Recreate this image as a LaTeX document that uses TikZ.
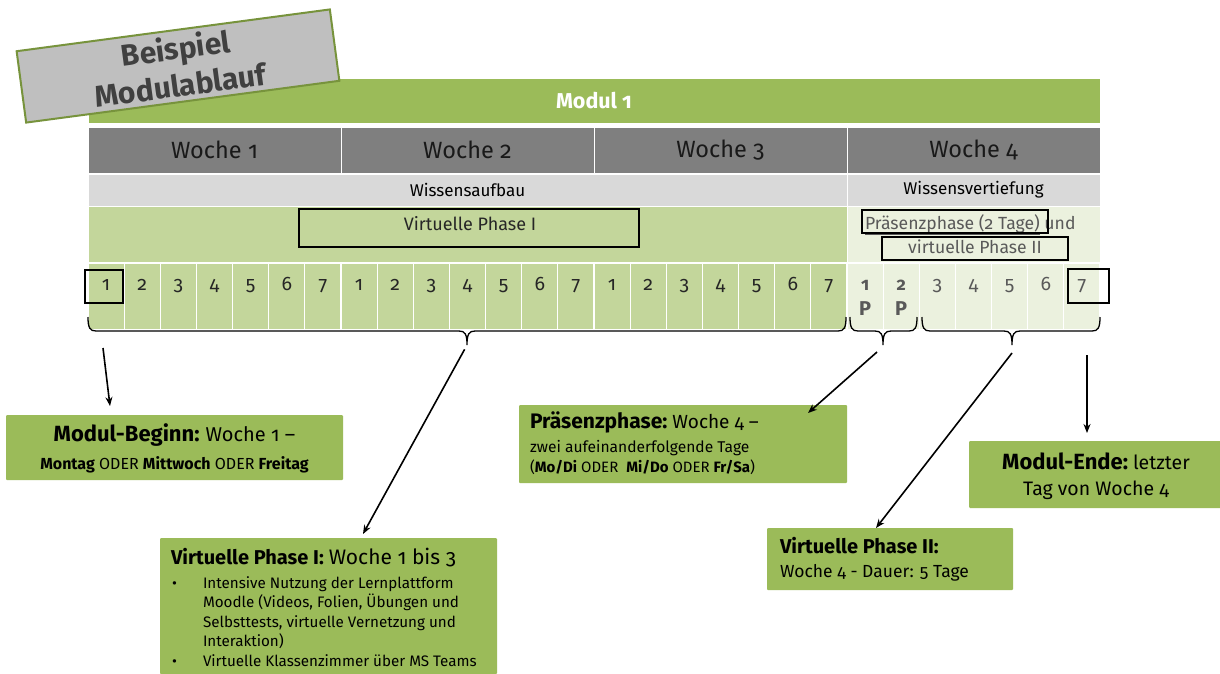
\documentclass[tikz,border=0pt]{standalone}
\usepackage{fontspec}
\setmainfont{Fira Sans}[Numbers=OldStyle]
\usetikzlibrary{arrows.meta}
\definecolor{mgreen}{HTML}{9BBB59}
\definecolor{lgreen}{HTML}{C3D69B}
\definecolor{vlgreen}{HTML}{EBF1DE}
\definecolor{dgray}{HTML}{7F7F7F}
\definecolor{lgray}{HTML}{D9D9D9}
\definecolor{bgray}{HTML}{BFBFBF}
\definecolor{bgreen}{HTML}{77933C}
\definecolor{txtgray}{HTML}{595959}
\definecolor{titlegray}{HTML}{404040}
\newcommand\fs[1]{\fontsize{#1}{#1}\selectfont}
\newcommand\mybracket[4]{%
  \draw[brc] (#1,317) .. controls (#1,328) and (#1+2,331) .. (#1+8,331)
    -- (#3-8,331) .. controls (#3-2,331) and (#3,334) .. (#3,345) coordinate (#4)
    .. controls (#3,334) and (#3+2,331) .. (#3+8,331)
    -- (#2-8,331) .. controls (#2-2,331) and (#2,328) .. (#2,317);
}
\begin{document}
\begin{tikzpicture}[x=1pt,y=-1pt,
  every node/.style={inner sep=0pt,outer sep=0pt},
  band/.style={anchor=north west,draw=white,line width=1pt},
  daycell/.style={anchor=north west,draw=white,line width=1.2pt,minimum width=36.143pt,minimum height=67pt},
  daynum/.style={anchor=base,font=\fs{19.5},text=black!85},
  daynumb/.style={anchor=base,font=\fs{19.5},text=txtgray},
  frame/.style={anchor=north west,draw=black,line width=1.8pt},
  infobox/.style={anchor=north west,fill=mgreen,rounded corners=1pt},
  brc/.style={draw=black,line width=1.3pt},
  arr/.style={draw=black,line width=1.6pt,-{Stealth[length=9pt,width=7pt]}}
]
\useasboundingbox (0,0) rectangle (1220,673);

% header rows
\node[band,fill=mgreen,minimum width=1012,minimum height=45,font=\fs{21.5}\bfseries,text=white] (modul) at (88,78) {Modul 1};
\foreach \i in {1,...,4}{
  \node[band,fill=dgray,minimum width=253,minimum height=46,font=\fs{23.5},text=black!90] (w\i) at ({88+253*(\i-1)},127) {Woche \i};
}
\node[band,fill=lgray,minimum width=759,minimum height=32,font=\fs{17}] (wa) at (88,174) {Wissensaufbau};
\node[band,fill=lgray,minimum width=253,minimum height=32,font=\fs{17}] (wv) at (847,174) {Wissensvertiefung};
\node[band,fill=lgreen,minimum width=759,minimum height=57] (vp) at (88,206) {};
\node[band,fill=vlgreen,minimum width=253,minimum height=57] (pv) at (847,206) {};

% day cells
\foreach \i in {0,...,27}{
  \ifnum\i<21 \def\cf{lgreen}\else\def\cf{vlgreen}\fi
  \node[daycell,fill=\cf] (d\i) at ({88+36.143*\i},263) {};
}
\foreach \i in {0,...,20}{
  \pgfmathtruncatemacro\dn{mod(\i,7)+1}
  \node[daynum] (n\i) at ({88+36.143*(\i+0.5)},290) {\dn};
}
\node[daynumb,font=\fs{18}\bfseries] (n21) at ({88+36.143*21.5},290) {1};
\node[daynumb,font=\fs{20}\bfseries] (p21) at ({88+36.143*21.5},315) {P};
\node[daynumb,font=\fs{18}\bfseries] (n22) at ({88+36.143*22.5},290) {2};
\node[daynumb,font=\fs{20}\bfseries] (p22) at ({88+36.143*22.5},315) {P};
\foreach \i in {23,...,27}{
  \pgfmathtruncatemacro\dn{\i-20}
  \node[daynumb] (n\i) at ({88+36.143*(\i+0.5)},290) {\dn};
}

% phase labels and frames
\node[frame,minimum width=340,minimum height=38] (vpbox) at (299,209) {};
\node[anchor=base,font=\fs{18},text=black!85] (vpt) at (470,230) {Virtuelle Phase I};
\node[anchor=base west,font=\fs{17.6},text=txtgray] (pt) at (865,229) {\underline{Präsenzphase (2 Tage)} und};
\node[frame,minimum width=186,minimum height=23] (pbox) at (862,210) {};
\node[anchor=base,font=\fs{17.6},text=txtgray] (vt2) at (975,253) {virtuelle Phase II};
\node[frame,minimum width=186,minimum height=23] (vbox2) at (882,237) {};
\node[frame,minimum width=38,minimum height=33] (f1) at (85,270) {};
\node[frame,minimum width=41,minimum height=34] (f7) at (1068,269) {};

% brackets
\mybracket{88}{846}{467}{br1}
\mybracket{850}{917}{883}{br2}
\mybracket{922}{1100}{1012}{br3}

% info boxes
\node[infobox,minimum width=337,minimum height=65] (beg) at (6,415) {};
\node[anchor=base] (beg1) at (174.5,441) {{\fs{22}\bfseries Modul-Beginn:}\hspace{6pt}{\fs{20}Woche 1 –}};
\node[anchor=base,font=\fs{16}] (beg2) at (174.5,469) {\textbf{Montag} ODER \textbf{Mittwoch} ODER \textbf{Freitag}};

\node[infobox,minimum width=328,minimum height=78] (pra) at (519,405) {};
\node[anchor=base west] (pra1) at (530,428) {{\fs{21}\bfseries Präsenzphase:}\hspace{5pt}{\fs{19}Woche 4 –}};
\node[anchor=base west,font=\fs{15.6}] (pra2) at (530,452) {zwei aufeinanderfolgende Tage};
\node[anchor=base west,font=\fs{15}] (pra3) at (530,472) {(\textbf{Mo/Di} ODER\ \ \textbf{Mi/Do} ODER \textbf{Fr/Sa})};

\node[infobox,minimum width=337,minimum height=136] (vpi) at (160,538) {};
\node[anchor=base west] (vpi0) at (171,564) {{\fs{20}\bfseries Virtuelle Phase I:}\hspace{5pt}{\fs{21}Woche 1 bis 3}};
\node[anchor=base west,font=\fs{15}] (b1) at (172,588) {•};
\node[anchor=base west,font=\fs{15.2}] (vpi1) at (203,588) {Intensive Nutzung der Lernplattform};
\node[anchor=base west,font=\fs{15.2}] (vpi2) at (203,607.5) {Moodle (Videos, Folien, Übungen und};
\node[anchor=base west,font=\fs{15.2}] (vpi3) at (203,627) {Selbsttests, virtuelle Vernetzung und};
\node[anchor=base west,font=\fs{15.2}] (vpi4) at (203,646.5) {Interaktion)};
\node[anchor=base west,font=\fs{15}] (b2) at (172,666) {•};
\node[anchor=base west,font=\fs{15.2}] (vpi5) at (203,666) {Virtuelle Klassenzimmer über MS Teams};

\node[infobox,minimum width=252,minimum height=67] (me) at (969,441) {};
\node[anchor=base] (me1) at (1096,469) {{\fs{22}\bfseries Modul-Ende:}\hspace{5pt}{\fs{19.5}letzter}};
\node[anchor=base,font=\fs{19.5}] (me2) at (1096,495) {Tag von Woche 4};

\node[infobox,minimum width=246,minimum height=62] (vpii) at (767,528) {};
\node[anchor=base west,font=\fs{20}\bfseries] (vpii1) at (780,553) {Virtuelle Phase II:};
\node[anchor=base west,font=\fs{17.5}] (vpii2) at (780,577) {Woche 4 - Dauer: 5 Tage};

% arrows
\coordinate (a1s) at (103,348);
\coordinate (a1e) at (110,406);
\coordinate (a2e) at (363,534);
\coordinate (a3s) at (877,352);
\coordinate (a3e) at (808,413);
\coordinate (a4s) at (1012,353);
\coordinate (a4e) at (876,528);
\coordinate (a5s) at (1087,355);
\coordinate (a5e) at (1087,433);
\draw[arr] (a1s) -- (a1e);
\draw[arr,shorten <=5pt] (br1) -- (a2e);
\draw[arr] (a3s) -- (a3e);
\draw[arr] (a4s) -- (a4e);
\draw[arr] (a5s) -- (a5e);

% title tag
\node[fill=bgray,draw=bgreen,line width=2pt,minimum width=316,minimum height=72,rotate=7.6,align=center,font=\fontsize{30}{37}\selectfont\bfseries,text=titlegray] (bsp) at (178,66) {Beispiel\\Modulablauf};
\end{tikzpicture}
\end{document}
